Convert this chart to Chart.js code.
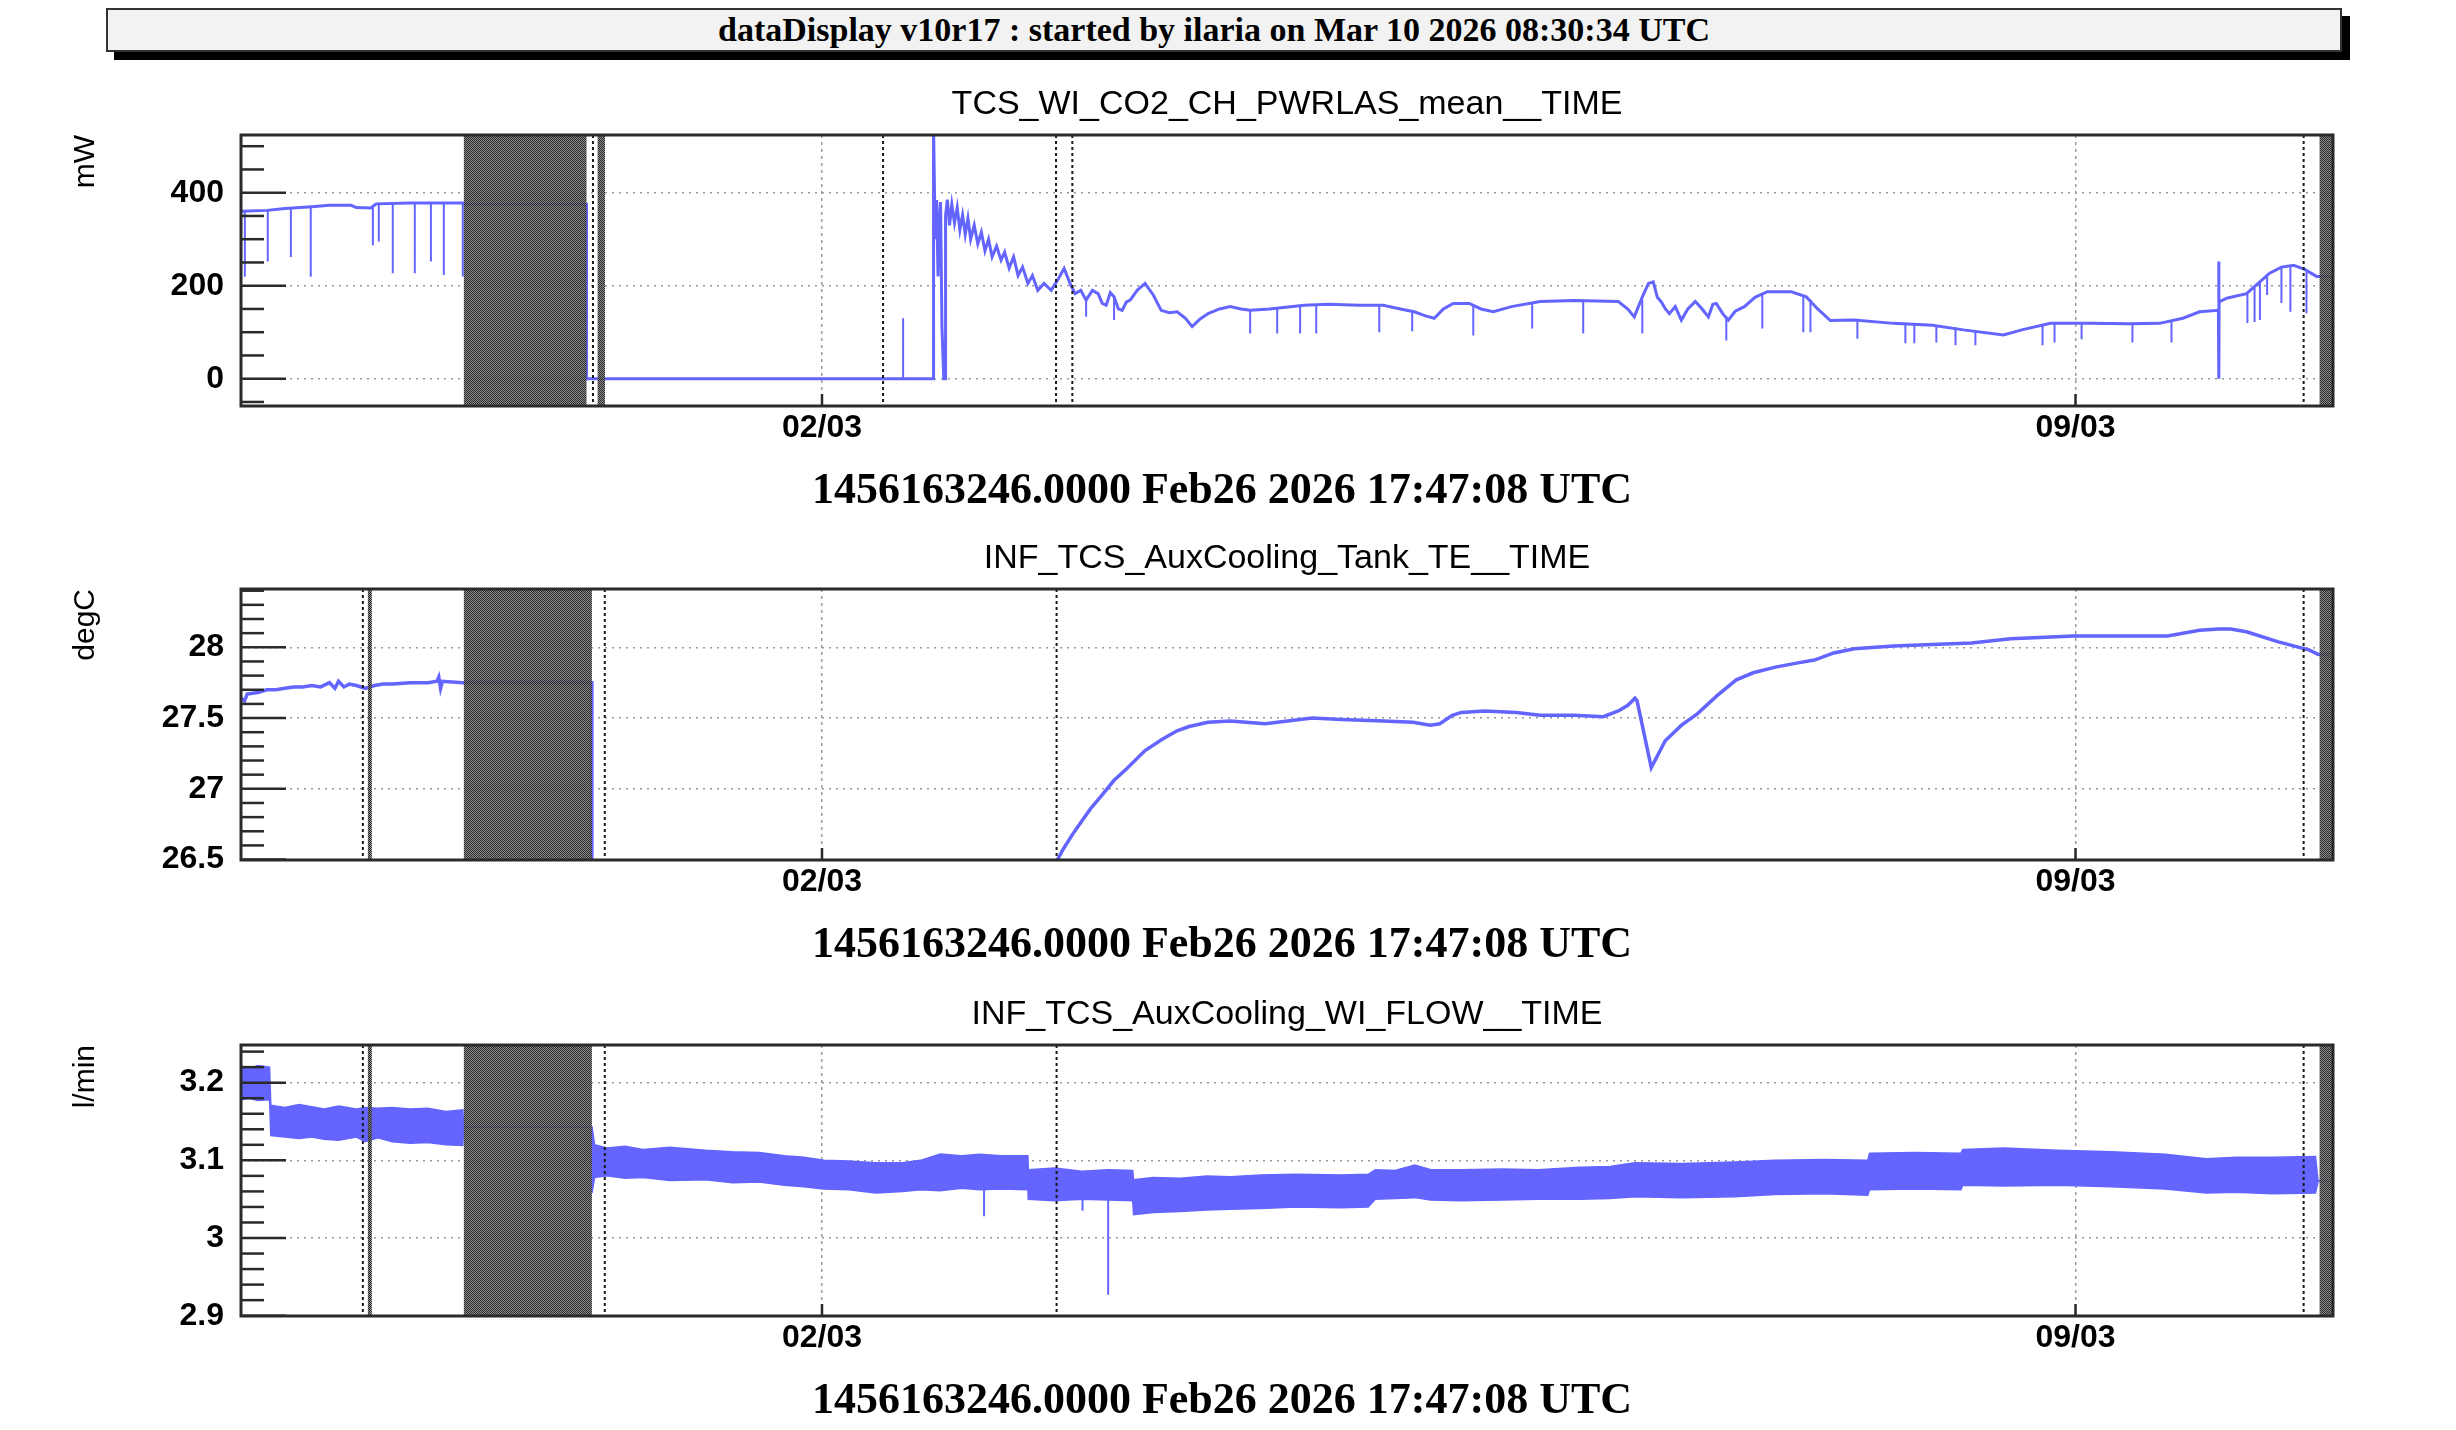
<!DOCTYPE html>
<html>
<head>
<meta charset="utf-8">
<title>dataDisplay v10r17</title>
<script src="https://cdn.jsdelivr.net/npm/chart.js@4.4.1/dist/chart.umd.min.js"></script>
<style>
  html, body { margin: 0; padding: 0; background: #fff; }
  body { width: 2456px; height: 1430px; position: relative; overflow: hidden; }
  #header {
    position: absolute; left: 106px; top: 8px; width: 2236px; height: 44px;
    box-sizing: border-box; border: 2px solid #333; background: #f2f2f2;
    box-shadow: 8px 8px 0 #000; padding-right: 20px;
    font: bold 34px "Liberation Serif", serif; line-height: 40px;
    text-align: center; color: #000;
  }
  canvas { position: absolute; left: 0; }
</style>
</head>
<body>
<div id="header">dataDisplay v10r17 : started by ilaria on Mar 10 2026 08:30:34 UTC</div>
<canvas id="pwr" width="2456" height="456" style="top:60px"></canvas>
<canvas id="tank" width="2456" height="456" style="top:514px"></canvas>
<canvas id="flow" width="2456" height="456" style="top:970px"></canvas>
<script>
// time axis: days since 2026-03-01 00:00 UTC (Feb 26 17:47 ... Mar 10 ~10:30)
const X_MIN = -2.2445, X_MAX = 9.438;
const xTickDays = [1, 8];
const xTickLabels = ['02/03', '09/03'];
const STAMP = '1456163246.0000 Feb26 2026 17:47:08 UTC';

// TCS_WI_CO2_CH_PWRLAS_mean (mW)
const pwrDay = [-2.244, -2.10, -2.00, -1.85, -1.75, -1.63, -1.60, -1.52, -1.49, -1.30, -1.006, -1.0, -0.315, -0.315,
  1.622, 1.623, 1.632, 1.640, 1.648, 1.655, 1.662, 1.670, 1.680, 1.687, 1.690, 1.700, 1.712, 1.725, 1.740, 1.755,
  1.770, 1.785, 1.800, 1.815, 1.830, 1.850, 1.870, 1.890, 1.910, 1.930, 1.950, 1.975, 2.000, 2.020, 2.045, 2.070,
  2.095, 2.120, 2.150, 2.175, 2.205, 2.240, 2.280, 2.320, 2.352, 2.385, 2.413, 2.445, 2.475, 2.510, 2.542, 2.565,
  2.587, 2.610, 2.631, 2.655, 2.676, 2.700, 2.721, 2.760, 2.804, 2.850, 2.894, 2.940, 2.983, 3.030, 3.067, 3.110,
  3.156, 3.220, 3.279, 3.340, 3.391, 3.500, 3.693, 3.827, 4.000, 4.134, 4.230, 4.307, 4.370, 4.419, 4.470, 4.525,
  4.615, 4.680, 4.749, 4.850, 5.011, 5.200, 5.447, 5.500, 5.536, 5.580, 5.615, 5.642, 5.665, 5.687, 5.710, 5.732,
  5.765, 5.799, 5.835, 5.877, 5.915, 5.950, 5.975, 5.994, 6.030, 6.061, 6.100, 6.151, 6.210, 6.279, 6.413, 6.497,
  6.560, 6.631, 6.765, 6.983, 7.201, 7.374, 7.598, 7.700, 7.860, 8.078, 8.300, 8.469, 8.600, 8.693, 8.798, 8.800,
  8.801, 8.802, 8.844, 8.955, 9.020, 9.084, 9.150, 9.218, 9.280, 9.346, 9.438];
const pwrMW = [360, 362, 366, 370, 373, 373, 368, 367, 376, 378, 378, 375, 375, 0,
  0, 540, 300, 384, 220, 340, 380, 110, 0, 0, 350, 385, 330, 375, 335, 368,
  320, 352, 310, 345, 300, 330, 290, 315, 275, 300, 262, 285, 255, 272, 238, 262,
  222, 240, 205, 222, 190, 205, 190, 215, 237, 205, 183, 190, 169, 190, 183, 162,
  158, 185, 176, 150, 147, 165, 169, 190, 205, 180, 147, 142, 144, 130, 112, 128,
  140, 150, 155, 150, 147, 150, 158, 160, 158, 158, 150, 144, 135, 130, 150, 162,
  162, 150, 144, 155, 166, 168, 166, 150, 133, 175, 205, 208, 175, 165, 150, 140,
  155, 126, 150, 166, 150, 133, 160, 162, 140, 126, 145, 155, 175, 187, 187, 176,
  150, 125, 126, 119, 115, 105, 94, 105, 119, 119, 118, 119, 130, 144, 147, 252,
  0, 165, 173, 183, 205, 227, 240, 244, 235, 220, 220];
// short drop-outs of the laser power
const pwrSpikeDay = [-2.223, -2.095, -1.966, -1.855, -1.508, -1.475, -1.397, -1.274, -1.184, -1.112, -1.006, 1.453,
  2.475, 2.631, 3.391, 3.542, 3.670, 3.760, 4.112, 4.296, 4.637, 4.966, 5.251, 5.581, 6.050, 6.251, 6.480, 6.520,
  6.782, 7.050, 7.100, 7.223, 7.330, 7.441, 7.816, 7.883, 8.034, 8.318, 8.536, 8.960, 9.000, 9.030, 9.070, 9.150,
  9.200, 9.290];
const pwrSpikeFrom = [360, 362, 367, 370, 370, 376, 377, 378, 378, 378, 378, 0,
  169, 176, 147, 150, 157, 158, 158, 145, 160, 165, 168, 170, 135, 182, 180, 170,
  126, 120, 120, 115, 110, 103, 115, 119, 119, 118, 122, 183, 195, 210, 222, 240,
  244, 234];
const pwrSpikeTo = [219, 252, 262, 219, 287, 295, 227, 227, 252, 223, 220, 130,
  133, 126, 97, 97, 97, 97, 100, 102, 93, 108, 97, 97, 82, 108, 100, 100,
  86, 76, 76, 78, 72, 72, 72, 78, 85, 78, 78, 120, 122, 126, 180, 163,
  144, 141];
const pwrTicks = [0, 200, 400];
const pwrMinor = [-50, 50, 100, 150, 250, 300, 350, 450, 500];
const pwrGaps = [[-1.0, -0.315], [-0.253, -0.212], [9.363, 9.438]];
const pwrMarks = [-0.279, 1.341, 2.307, 2.398, 9.274];

// INF_TCS_AuxCooling_Tank_TE (degC)
const tankDay = [-2.244, -2.225, -2.21, -2.15, -2.10, -2.05, -2.00, -1.95, -1.90, -1.85, -1.80, -1.75, -1.72, -1.70,
  -1.67, -1.64, -1.60, -1.55, -1.50, -1.45, -1.40, -1.30, -1.20, -1.15, -1.14, -1.13, -1.12, -1.006, -0.285, -0.285,
  2.305, 2.311, 2.35, 2.40, 2.455, 2.50, 2.56, 2.631, 2.70, 2.804, 2.90, 2.983, 3.05, 3.156, 3.279, 3.475, 3.60,
  3.737, 3.90, 4.134, 4.30, 4.397, 4.45, 4.52, 4.57, 4.70, 4.877, 5.011, 5.20, 5.363, 5.447, 5.50, 5.54, 5.552,
  5.631, 5.709, 5.80, 5.888, 6.0, 6.106, 6.20, 6.324, 6.45, 6.542, 6.65, 6.765, 6.983, 7.20, 7.419, 7.637, 7.80,
  7.989, 8.25, 8.514, 8.693, 8.80, 8.866, 8.955, 9.128, 9.307, 9.355, 9.438];
const tankC = [27.64, 27.62, 27.67, 27.68, 27.70, 27.70, 27.71, 27.72, 27.72, 27.73, 27.72, 27.75, 27.71, 27.76,
  27.72, 27.74, 27.73, 27.71, 27.73, 27.74, 27.74, 27.75, 27.75, 27.76, 27.79, 27.71, 27.76, 27.75, 27.75, 26.2,
  26.2, 26.49, 26.58, 26.68, 26.78, 26.86, 26.95, 27.06, 27.14, 27.27, 27.35, 27.41, 27.44, 27.47, 27.48, 27.46, 27.48,
  27.50, 27.49, 27.48, 27.47, 27.45, 27.46, 27.52, 27.54, 27.55, 27.54, 27.52, 27.52, 27.51, 27.55, 27.59, 27.64, 27.62,
  27.15, 27.34, 27.45, 27.53, 27.66, 27.77, 27.82, 27.86, 27.89, 27.91, 27.96, 27.99, 28.01, 28.02, 28.03, 28.06, 28.07,
  28.08, 28.08, 28.08, 28.12, 28.13, 28.13, 28.11, 28.04, 27.98, 27.95, 27.95];
const tankTicks = [26.5, 27, 27.5, 28];
const tankMinor = [26.6, 26.7, 26.8, 26.9, 27.1, 27.2, 27.3, 27.4, 27.6, 27.7, 27.8, 27.9, 28.1, 28.2, 28.3, 28.4];

// INF_TCS_AuxCooling_WI_FLOW (l/min): noisy band, upper and lower envelope
const flowDay = [-2.244, -2.20, -2.15, -2.085, -2.078, -2.00, -1.92, -1.85, -1.78, -1.70, -1.60, -1.55, -1.48, -1.40,
  -1.30, -1.20, -1.10, -1.006, -1.00, -0.285, -0.284, -0.27, -0.20, -0.10, 0.00, 0.15, 0.35, 0.50, 0.65, 0.79, 0.90,
  1.01, 1.15, 1.30, 1.45, 1.55, 1.66, 1.78, 1.88, 2.00, 2.15, 2.152, 2.30, 2.45, 2.60, 2.735, 2.74, 2.85, 3.00, 3.15,
  3.28, 3.45, 3.65, 3.90, 4.05, 4.09, 4.20, 4.31, 4.40, 4.57, 4.80, 5.00, 5.23, 5.40, 5.54, 5.80, 6.10, 6.32, 6.60,
  6.84, 6.85, 7.10, 7.36, 7.37, 7.60, 7.90, 8.20, 8.50, 8.73, 8.90, 9.10, 9.34, 9.355, 9.438];
const flowHigh = [3.222, 3.218, 3.222, 3.220, 3.171, 3.168, 3.172, 3.169, 3.166, 3.170, 3.166, 3.168, 3.167, 3.168,
  3.166, 3.167, 3.163, 3.165, 3.143, 3.143, 3.143, 3.120, 3.116, 3.118, 3.114, 3.117, 3.113, 3.111, 3.110, 3.106, 3.104,
  3.100, 3.099, 3.097, 3.097, 3.100, 3.108, 3.106, 3.108, 3.106, 3.106, 3.088, 3.090, 3.086, 3.088, 3.087, 3.075, 3.078,
  3.077, 3.080, 3.079, 3.081, 3.082, 3.081, 3.082, 3.088, 3.087, 3.094, 3.088, 3.088, 3.089, 3.088, 3.091, 3.092, 3.097,
  3.096, 3.098, 3.100, 3.101, 3.100, 3.109, 3.110, 3.109, 3.114, 3.116, 3.113, 3.111, 3.108, 3.102, 3.104, 3.104, 3.105,
  3.073, 3.073];
const flowLow = [3.178, 3.180, 3.177, 3.178, 3.132, 3.130, 3.128, 3.130, 3.127, 3.126, 3.130, 3.124, 3.129, 3.124,
  3.122, 3.123, 3.120, 3.119, 3.143, 3.143, 3.058, 3.078, 3.080, 3.077, 3.078, 3.074, 3.075, 3.071, 3.072, 3.068, 3.066,
  3.063, 3.062, 3.058, 3.060, 3.062, 3.061, 3.064, 3.062, 3.063, 3.062, 3.050, 3.048, 3.050, 3.049, 3.048, 3.030, 3.033,
  3.034, 3.036, 3.037, 3.038, 3.040, 3.039, 3.040, 3.050, 3.051, 3.052, 3.049, 3.048, 3.049, 3.050, 3.050, 3.051, 3.053,
  3.052, 3.053, 3.056, 3.057, 3.055, 3.062, 3.063, 3.062, 3.068, 3.067, 3.068, 3.066, 3.063, 3.058, 3.059, 3.057, 3.058,
  3.073, 3.073];
const flowSpikeDay = [1.905, 2.455, 2.598];
const flowSpikeFrom = [3.063, 3.049, 3.049];
const flowSpikeTo = [3.028, 3.035, 2.927];
const flowTicks = [2.9, 3, 3.1, 3.2];
const flowMinor = [2.92, 2.94, 2.96, 2.98, 3.02, 3.04, 3.06, 3.08, 3.12, 3.14, 3.16, 3.18, 3.22, 3.24];

// gaps and segment markers shared by the two AuxCooling channels
const auxGaps = [[-1.536, -1.514], [-1.0, -0.285], [9.363, 9.438]];
const auxMarks = [-1.564, -0.213, 2.31, 9.274];

const BLUE = 'rgb(100,100,255)';
const SANS = 'Liberation Sans';

const toPoints = (xs, ys) => xs.map((x, i) => ({x, y: ys[i]}));
const spikePoints = (xs, from, to) => xs.flatMap((x, i) => [{x, y: from[i]}, {x, y: to[i]}, {x, y: null}]);

// checkerboard fill used for the no-data boxes
const hatchCanvas = document.createElement('canvas');
hatchCanvas.width = 2; hatchCanvas.height = 2;
const hctx = hatchCanvas.getContext('2d');
hctx.fillStyle = 'rgba(125,125,125,0.85)';
hctx.fillRect(0, 1, 1, 1); hctx.fillRect(1, 0, 1, 1);
hctx.fillStyle = '#262626';
hctx.fillRect(0, 0, 1, 1); hctx.fillRect(1, 1, 1, 1);
const hatch = hctx.createPattern(hatchCanvas, 'repeat');

function framePlugin(cfg) {
  return {
    id: 'rootFrame',
    afterDatasetsDraw(chart) {
      const {ctx, chartArea: a, scales: {x}} = chart;
      ctx.save();
      ctx.beginPath(); ctx.rect(a.left, a.top, a.width, a.height); ctx.clip();
      ctx.fillStyle = hatch;
      cfg.gaps.forEach(([t0, t1]) => {
        const x0 = x.getPixelForValue(t0), x1 = x.getPixelForValue(t1);
        ctx.fillRect(x0, a.top, x1 - x0, a.height);
      });
      ctx.strokeStyle = '#1a1a1a'; ctx.lineWidth = 2; ctx.setLineDash([3, 3]);
      cfg.marks.forEach(t => {
        const px = x.getPixelForValue(t);
        ctx.beginPath(); ctx.moveTo(px, a.top); ctx.lineTo(px, a.bottom); ctx.stroke();
      });
      ctx.restore();
    },
    afterDraw(chart) {
      const {ctx, chartArea: a, scales: {x, y}} = chart;
      ctx.save();
      ctx.strokeStyle = '#2a2a2a'; ctx.lineWidth = 2.5;
      const tick = (v, len) => {
        const py = y.getPixelForValue(v);
        ctx.beginPath(); ctx.moveTo(a.left, py); ctx.lineTo(a.left + len, py); ctx.stroke();
      };
      cfg.yTicks.forEach(v => tick(v, 45));
      cfg.minor.forEach(v => tick(v, 23));
      xTickDays.forEach(d => {
        const px = x.getPixelForValue(d);
        ctx.beginPath(); ctx.moveTo(px, a.bottom); ctx.lineTo(px, a.bottom - 12); ctx.stroke();
      });
      ctx.lineWidth = 3;
      ctx.strokeRect(a.left, a.top, a.width, a.height);
      ctx.fillStyle = '#000';
      ctx.font = 'bold 44px "Liberation Serif"';
      ctx.textAlign = 'center'; ctx.textBaseline = 'alphabetic';
      ctx.fillText(STAMP, 1222, a.bottom + 97);
      ctx.restore();
    }
  };
}

function makePanel(id, cfg) {
  return new Chart(document.getElementById(id), {
    type: 'line',
    data: {datasets: cfg.datasets},
    options: {
      responsive: false,
      animation: false,
      devicePixelRatio: 1,
      layout: {padding: {left: 0, right: 123, top: 0, bottom: 0}},
      elements: {point: {radius: 0}, line: {tension: 0}},
      plugins: {
        legend: {display: false},
        tooltip: {enabled: false},
        title: {
          display: true, text: cfg.title, fullSize: false, color: '#000',
          font: {family: SANS, size: 34, weight: 'normal', lineHeight: 1.2},
          padding: {top: 24, bottom: 10.2}
        }
      },
      scales: {
        x: {
          type: 'linear', min: X_MIN, max: X_MAX,
          afterFit: s => { s.height = 110; },
          afterBuildTicks: s => { s.ticks = xTickDays.map(v => ({value: v})); },
          ticks: {
            autoSkip: false, maxRotation: 0, padding: 3, color: '#000',
            font: {family: SANS, size: 32, weight: 'bold'},
            callback: v => xTickLabels[xTickDays.indexOf(v)]
          },
          grid: {color: '#9a9a9a', lineWidth: 1.5, drawTicks: false},
          border: {display: false, dash: [3, 4]}
        },
        y: {
          type: 'linear', min: cfg.yMin, max: cfg.yMax,
          afterFit: s => { s.width = 241; },
          afterBuildTicks: s => { s.ticks = cfg.yTicks.map(v => ({value: v})); },
          ticks: {
            autoSkip: false, padding: 17, color: '#000',
            font: {family: SANS, size: 32, weight: 'bold'},
            callback: v => String(v)
          },
          grid: {color: '#9a9a9a', lineWidth: 1.5, drawTicks: false},
          border: {display: false, dash: [2, 5]},
          title: {
            display: true, text: cfg.unit, align: 'end', color: '#000',
            font: {family: SANS, size: 30, weight: 'normal'},
            padding: {top: 68, bottom: 0}
          }
        }
      }
    },
    plugins: [framePlugin(cfg)]
  });
}

makePanel('pwr', {
  title: 'TCS_WI_CO2_CH_PWRLAS_mean__TIME', unit: 'mW',
  yMin: -58.7, yMax: 524.1, yTicks: pwrTicks, minor: pwrMinor,
  gaps: pwrGaps, marks: pwrMarks,
  datasets: [
    {data: toPoints(pwrDay, pwrMW), borderColor: BLUE, borderWidth: 3, fill: false},
    {data: spikePoints(pwrSpikeDay, pwrSpikeFrom, pwrSpikeTo), borderColor: BLUE, borderWidth: 2, fill: false, spanGaps: false}
  ]
});

makePanel('tank', {
  title: 'INF_TCS_AuxCooling_Tank_TE__TIME', unit: 'degC',
  yMin: 26.497, yMax: 28.412, yTicks: tankTicks, minor: tankMinor,
  gaps: auxGaps, marks: auxMarks,
  datasets: [
    {data: toPoints(tankDay, tankC), borderColor: BLUE, borderWidth: 3.5, fill: false}
  ]
});

makePanel('flow', {
  title: 'INF_TCS_AuxCooling_WI_FLOW__TIME', unit: 'l/min',
  yMin: 2.8996, yMax: 3.2485, yTicks: flowTicks, minor: flowMinor,
  gaps: auxGaps, marks: auxMarks,
  datasets: [
    {data: toPoints(flowDay, flowHigh), borderColor: BLUE, borderWidth: 1.5, fill: false},
    {data: toPoints(flowDay, flowLow), borderColor: BLUE, borderWidth: 1.5, fill: '-1', backgroundColor: BLUE},
    {data: spikePoints(flowSpikeDay, flowSpikeFrom, flowSpikeTo), borderColor: BLUE, borderWidth: 2, fill: false, spanGaps: false}
  ]
});
</script>
</body>
</html>
